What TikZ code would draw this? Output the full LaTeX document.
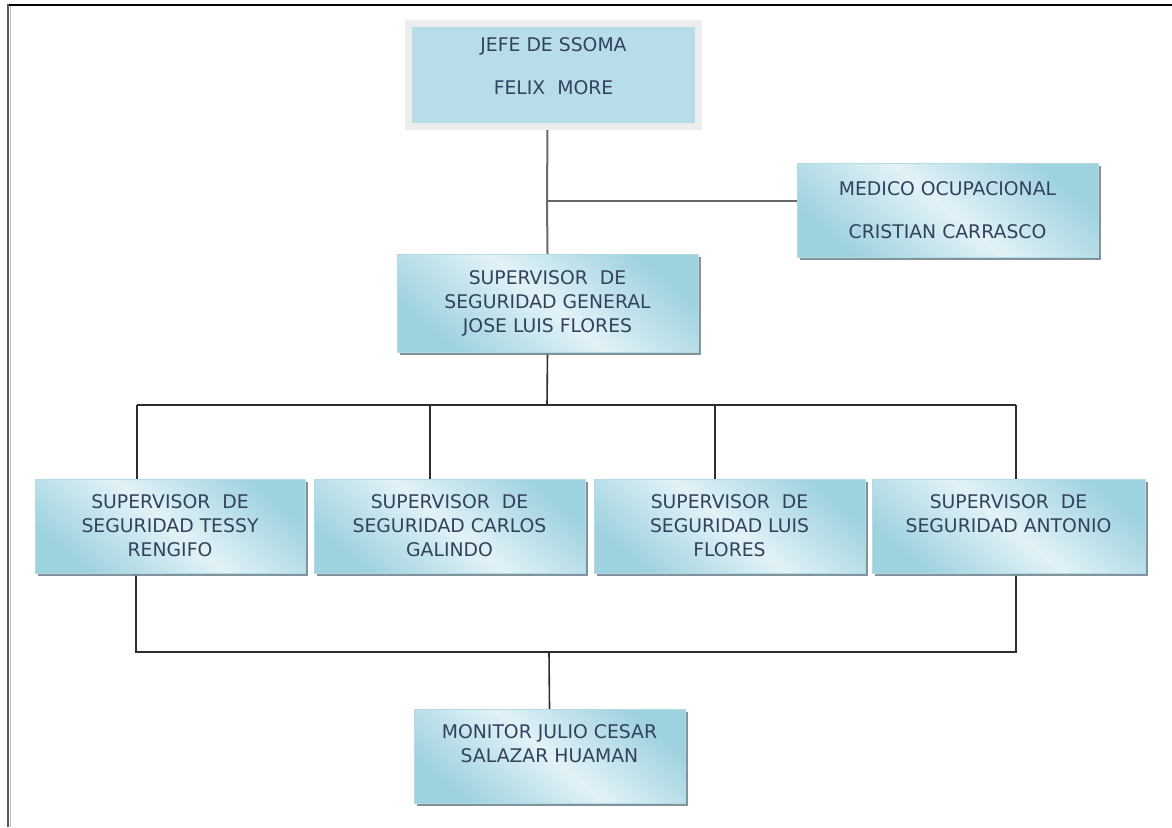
\documentclass[tikz,border=0pt]{standalone}
\usepackage{fontspec}
\setmainfont{DejaVu Sans}
\usetikzlibrary{shadows,backgrounds}
\definecolor{txt}{RGB}{50,66,92}
\definecolor{boxdark}{RGB}{158,210,223}
\definecolor{boxlight}{RGB}{226,242,247}
\definecolor{topfill}{RGB}{183,221,232}
\definecolor{topframe}{RGB}{236,238,238}
\definecolor{shad}{RGB}{118,135,145}
\definecolor{linegray}{RGB}{105,105,105}
\definecolor{linedark}{RGB}{45,45,45}
\tikzset{
  orgbox/.style={rectangle, inner sep=0pt, outer sep=0pt,
    minimum width=270pt, minimum height=94pt,
    draw=boxdark!80!white, line width=0.6pt,
    shading=axis, top color=boxdark, bottom color=boxdark, middle color=boxlight,
    shading angle=-40,
    drop shadow={shadow xshift=3pt, shadow yshift=-3pt, fill=shad, opacity=0.9},
    align=center, text=txt, font=\fontsize{18.8}{24}\selectfont},
  topbox/.style={rectangle, inner sep=0pt, outer sep=0pt,
    minimum width=290pt, minimum height=103pt,
    fill=topfill, draw=topframe, line width=7pt,
    drop shadow={shadow xshift=2pt, shadow yshift=-3pt, fill=shad, opacity=0.8},
    align=center, text=txt, font=\fontsize{18.8}{24}\selectfont},
  conn/.style={draw=linegray, line width=2pt},
  conndark/.style={draw=linedark, line width=1.6pt}
}
\begin{document}
\begin{tikzpicture}[x=1pt,y=-1pt]
\useasboundingbox (0,0) rectangle (1172,827);
% frame
\draw[line width=2pt, black] (7,5) -- (1172,5);
\draw[line width=2pt, black!65] (8,4) -- (8,827);
\draw[line width=1.5pt, black!25] (10.5,6) -- (10.5,827);

% nodes
\node[topbox] (jefe) at (553.5,75) {JEFE DE SSOMA\\[19pt]FELIX\ \ MORE\\[-6pt]\mbox{}};
\node[orgbox, minimum width=301pt] (med) at (947.5,210) {MEDICO OCUPACIONAL\\[19pt]CRISTIAN CARRASCO};
\node[orgbox, minimum width=301pt, minimum height=98pt] (sg) at (547.5,303) {SUPERVISOR\ \ DE\\SEGURIDAD GENERAL\\JOSE LUIS FLORES};
\node[orgbox] (s1) at (170,526) {SUPERVISOR\ \ DE\\SEGURIDAD TESSY\\RENGIFO};
\node[orgbox, minimum width=271pt] (s2) at (449.5,526) {SUPERVISOR\ \ DE\\SEGURIDAD CARLOS\\GALINDO};
\node[orgbox, minimum width=271pt] (s3) at (729.5,526) {SUPERVISOR\ \ DE\\SEGURIDAD LUIS\\FLORES};
\node[orgbox, minimum width=273pt] (s4) at (1008.5,526) {SUPERVISOR\ \ DE\\SEGURIDAD ANTONIO\\\mbox{}};
\node[orgbox, minimum width=271pt] (mon) at (549.5,756) {MONITOR JULIO CESAR\\SALAZAR HUAMAN\\\mbox{}};

% connector points
\coordinate (mj) at (547,201);
\coordinate (bus) at (547,405);
\coordinate (d1) at (137,405);
\coordinate (d2) at (430,405);
\coordinate (d3) at (715,405);
\coordinate (d4) at (1016,405);
\coordinate (b1) at (136,652);
\coordinate (b4) at (1016,652);
\coordinate (bm) at (549,652);

\begin{pgfonlayer}{background}
\draw[conn] (sg.north |- jefe.south) -- (mj) -- (sg.north |- sg.north);
\draw[conn] (mj) -- (mj -| med.west);
\draw[conndark] (sg.south) -- (bus);
\draw[conndark] (d1) -- (d4);
\draw[conndark] (d1) -- (d1 |- s1.north);
\draw[conndark] (d2) -- (d2 |- s2.north);
\draw[conndark] (d3) -- (d3 |- s3.north);
\draw[conndark] (d4) -- (d4 |- s4.north);
\draw[conndark] (b1 |- s1.south) -- (b1) -- (b4) -- (b4 |- s4.south);
\draw[conndark] (bm) -- (mon.north);
\end{pgfonlayer}
\end{tikzpicture}
\end{document}
